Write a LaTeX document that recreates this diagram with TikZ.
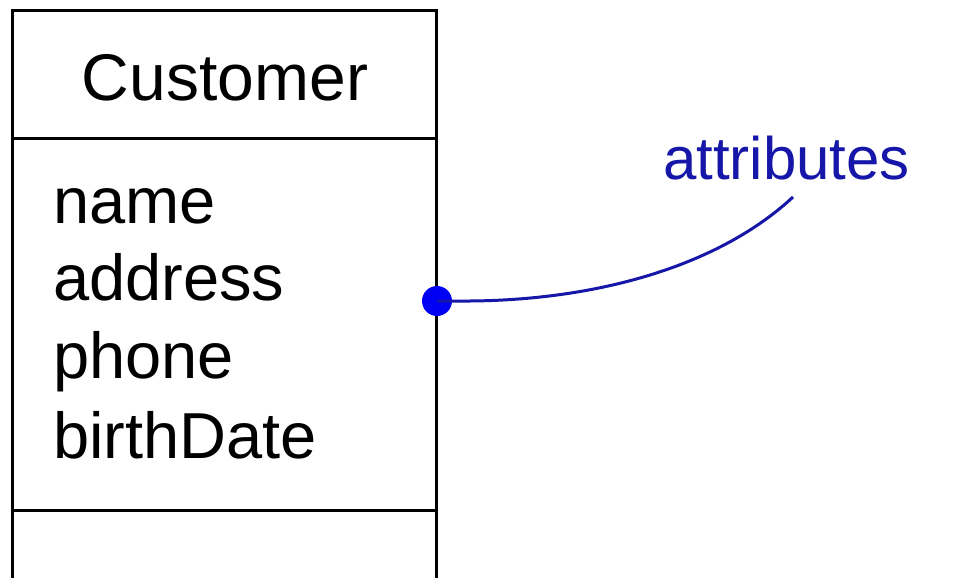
\documentclass[tikz,border=0pt]{standalone}
\usepackage{fontspec}
\setmainfont{Liberation Sans}
\definecolor{lblue}{RGB}{22,22,168}
\definecolor{dotblue}{RGB}{0,0,245}
\tikzset{
  boxline/.style={line width=3pt, black},
  boxtext/.style={font=\fontsize{65}{78}\selectfont, inner sep=0pt, anchor=base west},
  ann/.style={font=\fontsize{60}{72}\selectfont, text=lblue, inner sep=0pt, anchor=base west},
}
\begin{document}
\begin{tikzpicture}[x=1pt,y=-1pt]
\useasboundingbox (0,0) rectangle (958,578);
\fill[white] (0,0) rectangle (958,578);
% class box
\coordinate (tl) at (12.5,11);
\coordinate (tr) at (436,11);
\coordinate (bl) at (12.5,578);
\coordinate (br) at (436,578);
\draw[boxline] (bl) -- (tl) -- (tr) -- (br);
\draw[boxline] (12.5,138) -- (436,138);
\draw[boxline] (12.5,510) -- (436,510);
\node[font=\fontsize{66}{78}\selectfont, inner sep=0pt, anchor=base] (cname) at (225,100) {Customer};
\node[boxtext] (a1) at (53,223) {name};
\node[boxtext] (a2) at (53,300) {address};
\node[boxtext] (a3) at (53,378) {phone};
\node[boxtext] (a4) at (53,458) {birthDate};
% annotation
\node[circle, fill=dotblue, minimum size=30pt, inner sep=0pt] (dot) at (437,301) {};
\node[ann] (lbl) at (663,179) {attributes};
\coordinate (tip) at (793,197);
\draw[lblue, line width=3pt] (dot.center) -- (470,301) .. controls (600,300) and (720,265) .. (tip);
\end{tikzpicture}
\end{document}
